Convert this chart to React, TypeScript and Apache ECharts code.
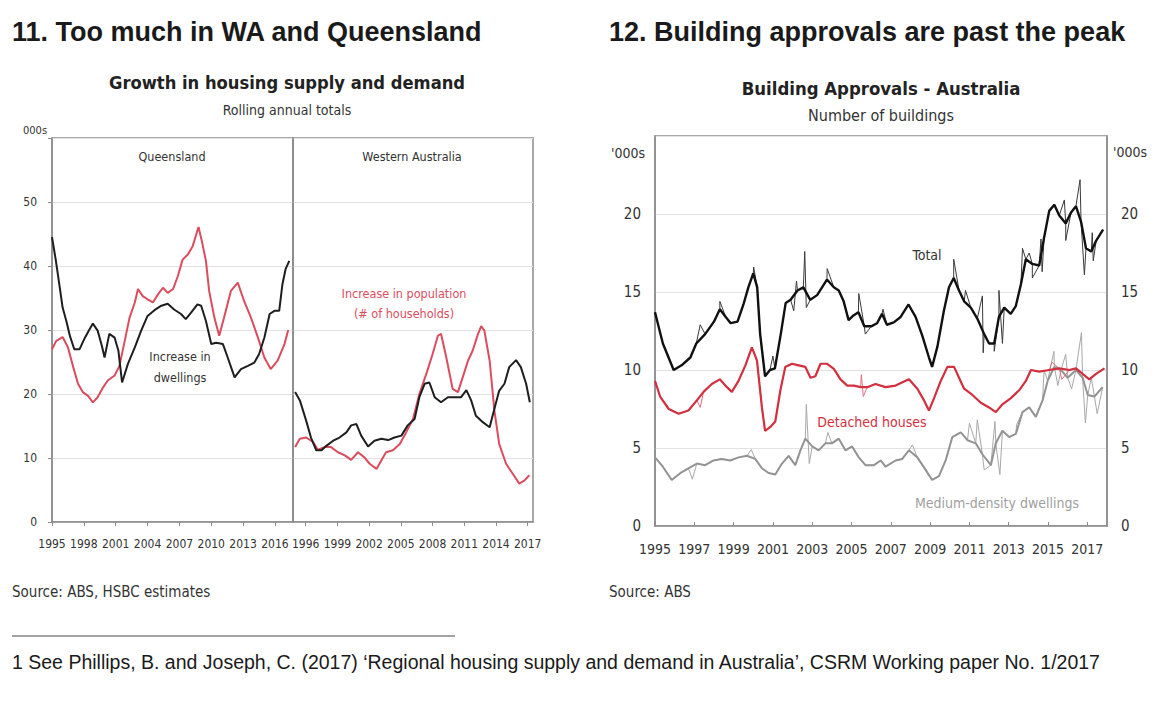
import React, { useEffect, useRef } from "react";
import * as echarts from "echarts";

const NARROW = '"DejaVu Sans Condensed", "Liberation Sans Narrow", sans-serif';
const SANS = '"Liberation Sans", Arial, sans-serif';

// ---------- Chart 11 data (000s) ----------
const qldTicks = [1995, 1998, 2001, 2004, 2007, 2010, 2013, 2016];
const waTicks = [1996, 1999, 2002, 2005, 2008, 2011, 2014, 2017];

const qldDwellings: [number, number][] = [
  [1995.0, 44.5], [1995.35, 41], [1995.7, 37], [1996.0, 33.5], [1996.35, 31.4], [1996.7, 29], [1997.1, 27], [1997.6, 27],
  [1998.1, 28.8], [1998.5, 30], [1998.85, 31], [1999.3, 29.9], [1999.7, 27.5], [1999.95, 25.7], [2000.4, 29.4], [2000.9, 28.8],
  [2001.25, 26.8], [2001.6, 21.8], [2002.15, 24.7], [2002.8, 27.3], [2003.4, 29.9], [2004.0, 32.2], [2004.65, 33.1], [2005.3, 33.8],
  [2005.9, 34.1], [2006.5, 33.2], [2007.15, 32.5], [2007.6, 31.7], [2008.1, 32.7], [2008.7, 34], [2009.05, 33.8], [2009.5, 31.4],
  [2010.0, 27.8], [2010.45, 28], [2011.1, 27.8], [2011.55, 25.7], [2012.2, 22.6], [2012.8, 23.9], [2013.45, 24.4], [2014.05, 24.9],
  [2014.5, 26.2], [2015.0, 28.8], [2015.5, 32.5], [2015.95, 33], [2016.4, 33], [2016.7, 37.1], [2017.0, 39.5], [2017.35, 40.8],
];
const qldPopulation: [number, number][] = [
  [1995.0, 27], [1995.4, 28.3], [1996.0, 28.9], [1996.5, 27.3], [1997.0, 24.2], [1997.45, 21.6], [1997.9, 20.3], [1998.4, 19.7],
  [1998.85, 18.7], [1999.3, 19.5], [1999.8, 21], [2000.25, 22.1], [2000.9, 22.9], [2001.35, 24.4], [2001.85, 28.3], [2002.3, 31.9],
  [2002.8, 34.3], [2003.1, 36.4], [2003.55, 35.3], [2004.0, 34.8], [2004.5, 34.3], [2005.0, 35.6], [2005.45, 36.6], [2005.9, 35.8],
  [2006.4, 36.4], [2006.85, 38.4], [2007.3, 41], [2007.8, 41.8], [2008.25, 43.1], [2008.8, 46.1], [2009.1, 44], [2009.5, 40.8],
  [2009.8, 36.1], [2010.3, 31.9], [2010.75, 29.1], [2011.2, 31.9], [2011.85, 36.1], [2012.5, 37.4], [2013.1, 34.5], [2013.75, 31.9],
  [2014.4, 28.8], [2015.0, 25.7], [2015.6, 23.9], [2016.25, 25.2], [2016.9, 27.8], [2017.25, 30],
];
const waDwellings: [number, number][] = [
  [1995.0, 20.3], [1995.45, 19], [1996.05, 15.8], [1996.5, 13.2], [1997.0, 11.2], [1997.5, 11.2], [1997.95, 11.9], [1998.6, 12.7],
  [1999.2, 13.2], [1999.85, 14], [2000.3, 15.1], [2000.8, 15.3], [2001.25, 13.5], [2001.9, 11.8], [2002.5, 12.7], [2003.15, 13],
  [2003.8, 12.8], [2004.4, 13.2], [2005.05, 13.5], [2005.65, 15.1], [2006.3, 16.1], [2006.75, 19.5], [2007.25, 21.6], [2007.7, 21.8],
  [2008.2, 19.5], [2008.8, 18.7], [2009.45, 19.5], [2010.05, 19.5], [2010.7, 19.5], [2011.2, 20.6], [2011.65, 19], [2012.1, 16.6],
  [2012.75, 15.6], [2013.4, 14.8], [2013.85, 17.7], [2014.3, 20.5], [2014.8, 21.6], [2015.25, 24.2], [2015.9, 25.3], [2016.35, 24.2],
  [2016.85, 21.6], [2017.2, 18.7],
];
const waPopulation: [number, number][] = [
  [1995.0, 11.7], [1995.45, 13], [1996.05, 13.2], [1996.7, 12.5], [1997.15, 11.3], [1997.8, 11.7], [1998.4, 11.7], [1999.05, 10.9],
  [1999.7, 10.4], [2000.3, 9.7], [2000.95, 10.9], [2001.55, 10.1], [2002.05, 9.1], [2002.7, 8.3], [2003.15, 9.6], [2003.6, 10.9],
  [2004.25, 11.2], [2004.9, 12.2], [2005.5, 14], [2006.15, 16.1], [2006.75, 20], [2007.4, 23.1], [2008.0, 26.2], [2008.5, 29.1],
  [2008.8, 29.4], [2009.3, 25.7], [2009.9, 20.8], [2010.4, 20.3], [2010.85, 22.6], [2011.35, 25.2], [2011.8, 26.8], [2012.3, 29.4],
  [2012.6, 30.6], [2012.9, 29.9], [2013.4, 25.2], [2013.85, 17.4], [2014.3, 12.2], [2014.95, 9.1], [2015.6, 7.5], [2016.2, 6],
  [2016.7, 6.5], [2017.15, 7.3],
];

// ---------- Chart 12 data ('000s) ----------
const rightXTicks = [1995, 1997, 1999, 2001, 2003, 2005, 2007, 2009, 2011, 2013, 2015, 2017];

const totalTrend: [number, number][] = [
  [1995.0, 13.7], [1995.4, 11.7], [1995.95, 10], [1996.35, 10.3], [1996.8, 10.8], [1997.1, 11.7], [1997.55, 12.3], [1998.0, 13.1],
  [1998.3, 13.9], [1998.6, 13.4], [1998.85, 13], [1999.2, 13.1], [1999.5, 14.2], [1999.75, 15.3], [2000.0, 16.2], [2000.2, 15.3],
  [2000.35, 12.3], [2000.6, 9.6], [2000.85, 10], [2001.1, 10.1], [2001.4, 12.3], [2001.65, 14.3], [2001.9, 14.5], [2002.25, 15.1],
  [2002.55, 15.3], [2002.9, 14.5], [2003.25, 14.8], [2003.5, 15.3], [2003.75, 15.8], [2004.1, 15.3], [2004.35, 15.1], [2004.6, 14.4],
  [2004.85, 13.2], [2005.1, 13.5], [2005.35, 13.7], [2005.65, 12.8], [2006.0, 12.8], [2006.3, 13], [2006.55, 13.6], [2006.8, 12.9],
  [2007.15, 13.05], [2007.5, 13.4], [2007.9, 14.2], [2008.26, 13.4], [2008.6, 12.2], [2008.94, 10.8], [2009.1, 10.2], [2009.37, 11.5],
  [2009.7, 13.8], [2009.96, 15.3], [2010.2, 15.9], [2010.47, 15.1], [2010.73, 14.4], [2011.07, 14], [2011.4, 13.3], [2011.75, 12.3],
  [2012.0, 11.7], [2012.26, 11.7], [2012.5, 13.4], [2012.77, 14], [2013.1, 13.6], [2013.36, 14.1], [2013.62, 15.5], [2013.87, 17.1],
  [2014.2, 16.8], [2014.55, 16.7], [2014.8, 18.5], [2015.06, 20.2], [2015.32, 20.6], [2015.57, 19.9], [2015.9, 19.4], [2016.17, 20.1],
  [2016.42, 20.5], [2016.68, 19.5], [2016.93, 17.8], [2017.2, 17.6], [2017.45, 18.3], [2017.8, 19],
];
const totalSpikes: [number, number][] = [
  [1997.3, 12.9], [1998.3, 14.4], [2000.02, 16.6], [2001.0, 10.9], [2002.06, 13.8], [2002.2, 15.7], [2002.62, 17.6], [2002.7, 14.0],
  [2003.76, 16.5], [2005.37, 14.9], [2005.7, 12.3], [2006.6, 13.9], [2010.2, 17.1], [2010.8, 15.1], [2011.66, 14.75], [2011.7, 11.1],
  [2012.26, 11.2], [2012.5, 15.1], [2012.68, 11.7], [2013.7, 17.8], [2014.04, 17.5], [2014.2, 15.9], [2014.64, 18.4], [2014.7, 16.3],
  [2015.83, 20.9], [2015.9, 18.3], [2016.63, 22.2], [2016.85, 16.1], [2017.25, 18.8], [2017.3, 17.0],
];
const detachedTrend: [number, number][] = [
  [1995.0, 9.3], [1995.26, 8.3], [1995.7, 7.5], [1996.2, 7.2], [1996.7, 7.4], [1997.13, 8.05], [1997.47, 8.6], [1997.89, 9.1],
  [1998.3, 9.4], [1998.66, 8.9], [1998.91, 8.6], [1999.25, 9.3], [1999.6, 10.3], [1999.93, 11.45], [2000.19, 10.6], [2000.44, 7.6],
  [2000.6, 6.1], [2000.87, 6.35], [2001.12, 6.7], [2001.38, 8.7], [2001.63, 10.2], [2001.97, 10.4], [2002.31, 10.3], [2002.65, 10.2],
  [2002.91, 9.5], [2003.16, 9.6], [2003.42, 10.4], [2003.76, 10.4], [2004.1, 10.07], [2004.44, 9.4], [2004.78, 9.0], [2005.12, 9.0],
  [2005.46, 8.9], [2005.8, 8.9], [2006.22, 9.1], [2006.73, 8.9], [2007.24, 9.0], [2007.92, 9.4], [2008.35, 8.8], [2008.69, 8.05],
  [2008.94, 7.4], [2009.2, 8.2], [2009.54, 9.3], [2009.88, 10.2], [2010.22, 10.2], [2010.47, 9.5], [2010.73, 8.8], [2011.15, 8.4],
  [2011.58, 7.9], [2012.0, 7.6], [2012.34, 7.3], [2012.68, 7.8], [2013.11, 8.2], [2013.53, 8.7], [2013.87, 9.3], [2014.13, 10.0],
  [2014.55, 9.9], [2015.06, 10.0], [2015.57, 10.1], [2016.08, 10.0], [2016.42, 10.1], [2016.76, 9.75], [2017.1, 9.4], [2017.44, 9.75],
  [2017.87, 10.1],
];
const detachedSpikes: [number, number][] = [
  [1997.3, 7.6], [2005.5, 9.7], [2005.6, 8.3], [2015.2, 10.5], [2015.7, 9.4],
];
const mediumTrend: [number, number][] = [
  [1995.0, 4.4], [1995.4, 3.8], [1995.85, 2.95], [1996.3, 3.4], [1996.7, 3.7], [1997.13, 4.0], [1997.55, 3.9], [1997.98, 4.2],
  [1998.4, 4.3], [1998.83, 4.2], [1999.25, 4.4], [1999.68, 4.5], [2000.1, 4.3], [2000.44, 3.7], [2000.78, 3.4], [2001.12, 3.3],
  [2001.46, 4.0], [2001.8, 4.5], [2002.14, 3.9], [2002.4, 4.85], [2002.65, 5.6], [2003.0, 5.1], [2003.33, 4.85], [2003.67, 5.3],
  [2004.0, 5.3], [2004.35, 5.6], [2004.69, 4.85], [2005.03, 5.1], [2005.37, 4.4], [2005.71, 3.9], [2006.14, 3.9], [2006.48, 4.2],
  [2006.73, 3.8], [2007.24, 4.2], [2007.58, 4.3], [2007.92, 4.85], [2008.35, 4.4], [2008.77, 3.6], [2009.1, 2.95], [2009.45, 3.2],
  [2009.79, 4.2], [2010.13, 5.7], [2010.56, 6.0], [2010.9, 5.5], [2011.32, 5.3], [2011.66, 4.6], [2012.09, 3.9], [2012.34, 5.3],
  [2012.68, 6.1], [2013.02, 5.7], [2013.36, 5.9], [2013.7, 7.3], [2014.04, 7.6], [2014.38, 7.0], [2014.72, 8.05], [2014.98, 9.3],
  [2015.32, 10.2], [2015.66, 10.0], [2016.0, 9.5], [2016.42, 10.0], [2016.76, 9.5], [2017.02, 8.4], [2017.36, 8.3], [2017.78, 8.9],
];
const mediumSpikes: [number, number][] = [
  [1996.9, 3.0], [1999.9, 4.9], [2002.7, 7.8], [2002.85, 4.0], [2003.8, 6.0], [2008.1, 5.2], [2011.0, 6.6], [2011.4, 6.8],
  [2011.75, 3.6], [2012.3, 6.7], [2012.55, 3.3], [2013.4, 6.5], [2014.8, 10.0], [2015.3, 11.2], [2015.5, 9.0], [2015.9, 11.0],
  [2016.2, 8.8], [2016.7, 12.4], [2016.9, 6.6], [2017.2, 9.5], [2017.5, 7.2],
];

const merge = (a: [number, number][], b: [number, number][]) =>
  [...a, ...b].sort((p, q) => p[0] - q[0]);

const AXIS = "#8c8c8c";
const GRID = "#e2e2e2";
const LABEL = "#333";

function txt(text: string, x: number, y: number, size: number, o: any = {}) {
  return {
    type: "text",
    x,
    y,
    z: 100,
    style: {
      text,
      fill: o.fill || LABEL,
      font: `${o.bold ? "bold " : ""}${size}px ${o.family || NARROW}`,
      align: o.align || "left",
      verticalAlign: "middle",
    },
  };
}

function line(name: string, data: [number, number][], idx: number, color: string, width: number, z = 2) {
  return {
    type: "line",
    name,
    data,
    xAxisIndex: idx,
    yAxisIndex: idx,
    showSymbol: false,
    symbol: "none",
    z,
    lineStyle: { color, width },
    silent: true,
  };
}

export default function App() {
  const ref = useRef<HTMLDivElement>(null);
  useEffect(() => {
    if (!ref.current) return;
    const chart = echarts.init(ref.current, undefined, { renderer: "svg" });
    const xBase = (min: number, max: number, grid: number, ticks: number[], size: number, inside: boolean, margin: number) => ({
      type: "value",
      gridIndex: grid,
      min,
      max,
      axisLine: { show: true, lineStyle: { color: AXIS, width: 1.5 } },
      axisTick: { show: true, inside, length: 4, customValues: ticks, lineStyle: { color: AXIS } },
      axisLabel: { customValues: ticks, color: LABEL, fontFamily: NARROW, fontSize: size, margin, formatter: (v: number) => String(v) },
      splitLine: { show: false },
    });
    const yBase = (grid: number, max: number, interval: number, showLabel: boolean, position: string, size: number, tick: boolean, margin: number) => ({
      type: "value",
      gridIndex: grid,
      min: 0,
      max,
      interval,
      position,
      axisLine: { show: true, lineStyle: { color: AXIS, width: 1.5 } },
      axisTick: { show: tick, length: 4, lineStyle: { color: AXIS } },
      axisLabel: {
        show: showLabel,
        color: LABEL,
        fontFamily: NARROW,
        fontSize: size,
        margin,
        formatter: (v: number) => (v === max ? "" : String(v)),
      },
      splitLine: { show: position === "left", lineStyle: { color: GRID, width: 1 } },
    });

    const option: any = {
      animation: false,
      grid: [
        { left: 52, top: 138, width: 241, height: 384, show: true, borderColor: AXIS, borderWidth: 1.5 },
        { left: 293, top: 138, width: 240, height: 384, show: true, borderColor: AXIS, borderWidth: 1.5 },
        { left: 655, top: 136, width: 452, height: 390, show: true, borderColor: AXIS, borderWidth: 1.5 },
        { left: 655, top: 136, width: 452, height: 390, show: false },
      ],
      xAxis: [
        xBase(1995, 2017.7, 0, qldTicks, 12, false, 16),
        xBase(1994.8, 2017.5, 1, waTicks, 12, false, 16),
        xBase(1995, 2018, 2, rightXTicks, 14, true, 16),
        { ...xBase(1995, 2018, 3, rightXTicks, 14, true, 16), show: false },
      ],
      yAxis: [
        yBase(0, 60, 10, true, "left", 12, true, 15),
        yBase(1, 60, 10, false, "left", 12, false, 14),
        yBase(2, 25, 5, true, "left", 15, false, 14),
        yBase(3, 25, 5, true, "right", 15, false, 14),
      ],
      series: [
        line("QLD population", qldPopulation, 0, "#db4d5e", 2),
        line("QLD dwellings", qldDwellings, 0, "#1e1e1e", 2, 3),
        line("WA population", waPopulation, 1, "#db4d5e", 2),
        line("WA dwellings", waDwellings, 1, "#1e1e1e", 2, 3),
        line("Medium raw", merge(mediumTrend, mediumSpikes), 2, "#a8a8a8", 1, 2),
        line("Medium-density dwellings", mediumTrend, 2, "#939393", 2, 3),
        line("Detached raw", merge(detachedTrend, detachedSpikes), 2, "#e07080", 1, 4),
        line("Detached houses", detachedTrend, 2, "#d3303f", 2.2, 5),
        line("Total raw", merge(totalTrend, totalSpikes), 2, "#3a3a3a", 1, 6),
        line("Total", totalTrend, 2, "#111111", 2.4, 7),
      ],
      graphic: [
        txt("11. Too much in WA and Queensland", 12, 32, 27, { bold: true, family: SANS, fill: "#1a1a1a" }),
        txt("12. Building approvals are past the peak", 609, 32, 27, { bold: true, family: SANS, fill: "#1a1a1a" }),
        txt("Growth in housing supply and demand", 287, 82, 18.2, { bold: true, align: "center", fill: "#222" }),
        txt("Rolling annual totals", 287, 110, 14, { align: "center" }),
        txt("000s", 23, 130, 11),
        txt("Queensland", 172, 156, 12.5, { align: "center" }),
        txt("Western Australia", 412, 156, 12.5, { align: "center" }),
        txt("Increase in", 180, 356, 12.5, { align: "center" }),
        txt("dwellings", 180, 377, 12.5, { align: "center" }),
        txt("Increase in population", 404, 293, 12.5, { align: "center", fill: "#db4d5e" }),
        txt("(# of households)", 404, 313, 12.5, { align: "center", fill: "#db4d5e" }),
        txt("Source: ABS, HSBC estimates", 12, 592, 15),
        txt("Building Approvals - Australia", 881, 88, 18.4, { bold: true, align: "center", fill: "#222" }),
        txt("Number of buildings", 881, 115, 16, { align: "center" }),
        txt("'000s", 645, 153, 14, { align: "right" }),
        txt("'000s", 1113, 152, 14),
        txt("Total", 927, 255, 14, { align: "center" }),
        txt("Detached houses", 872, 422, 14, { align: "center", fill: "#d3303f" }),
        txt("Medium-density dwellings", 997, 503, 14, { align: "center", fill: "#a0a0a0" }),
        txt("Source: ABS", 609, 592, 15),
        { type: "line", shape: { x1: 12, y1: 636, x2: 455, y2: 636 }, style: { stroke: "#444", lineWidth: 1 } },
        txt("1 See Phillips, B. and Joseph, C. (2017) \u2018Regional housing supply and demand in Australia\u2019, CSRM Working paper No. 1/2017", 12, 662, 19.5, { family: SANS, fill: "#1a1a1a" }),
      ],
    };
    chart.setOption(option);
    return () => chart.dispose();
  }, []);
  return <div ref={ref} style={{ position: "absolute", left: 0, top: 0, width: 1160, height: 704, background: "#fff" }} />;
}
